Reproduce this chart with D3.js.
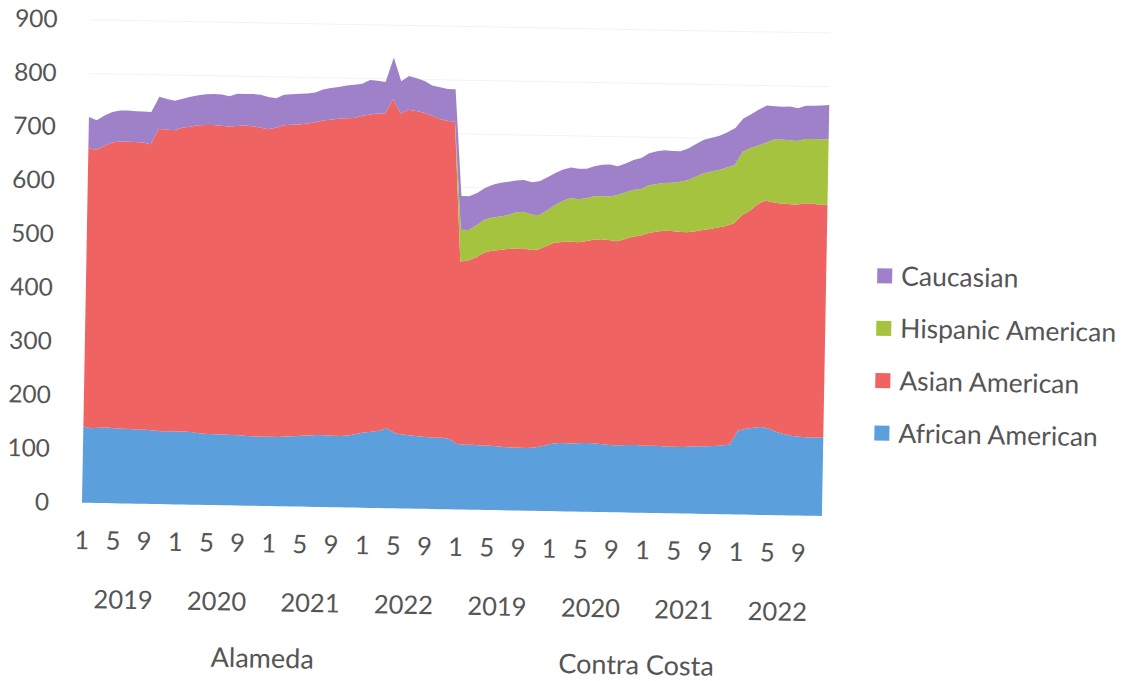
<!DOCTYPE html>
<html><head><meta charset="utf-8">
<script src="https://cdn.jsdelivr.net/npm/d3@7/dist/d3.min.js"></script>
<style>
body{margin:0;background:#fff;}
text{font-family:Lato,"Open Sans",sans-serif;fill:#555555;}
</style>
</head><body>
<svg id="chart" width="1127" height="681"></svg>
<script>
const counties = ["Alameda", "Contra Costa"];
const years = ["2019", "2020", "2021", "2022"];
const months = [1,2,3,4,5,6,7,8,9,10,11,12];
const seriesNames = ["African American", "Asian American", "Hispanic American", "Caucasian"];
const legendOrder = ["Caucasian", "Hispanic American", "Asian American", "African American"];
const colors = ["#5b9fdc", "#ef6462", "#a6c33f", "#9e81c9"];
const yTicks = [0,100,200,300,400,500,600,700,800,900];

const africanAmerican = [142,139,140,141,140,139,139,138,138,137,136,136,136,136,135,133,132,132,132,131,131,130,129,129,129,129,130,131,132,133,134,134,133,133,134,137,140,142,144,149,140,138,136,135,134,133,133,131,
122,121,121,120,120,119,118,117,117,117,118,121,125,127,127,127,128,128,127,126,125,125,126,126,125,125,125,124,124,124,125,126,126,127,128,130,156,160,162,164,161,155,151,148,147,146,146,146];
const asianAmerican = [519,519,525,531,534,535,535,535,532,562,562,561,566,568,572,575,576,575,574,576,577,577,576,573,576,581,581,581,582,583,586,588,591,592,592,593,593,593,591,613,596,605,605,603,599,594,591,591,
340,343,349,359,363,366,369,371,372,369,369,373,375,375,376,375,376,379,381,381,380,384,388,390,396,399,401,402,401,400,401,403,405,407,409,412,401,406,416,422,422,426,429,431,435,436,434,434];
const hispanicAmerican = [0,0,0,0,0,0,0,0,0,0,0,0,0,0,0,0,0,0,0,0,0,0,0,0,0,0,0,0,0,0,0,0,0,0,0,0,0,0,0,0,0,0,0,0,0,0,0,0,
59,57,60,62,62,62,63,67,68,66,64,66,70,76,81,80,80,81,81,81,86,87,87,87,89,89,89,90,93,97,102,105,107,107,109,109,119,117,110,108,117,119,119,119,120,120,122,122];
const caucasian = [58,55,57,57,58,58,57,58,60,60,57,55,54,56,56,57,58,58,56,60,59,60,61,60,55,57,57,57,56,56,58,59,59,61,62,60,64,61,59,78,60,63,61,59,56,59,59,61,
63,63,60,59,61,63,62,60,59,60,63,62,60,59,57,57,55,56,58,60,54,54,56,58,60,61,61,59,57,59,61,63,63,64,66,69,62,63,67,69,62,61,63,61,62,62,63,64];

// build category table
const categories = [];
counties.forEach(c => years.forEach(y => months.forEach(m => categories.push({county:c, year:y, month:m}))));
const rows = categories.map((c, i) => ({
  idx: i, county: c.county, year: c.year, month: c.month,
  "African American": africanAmerican[i],
  "Asian American": asianAmerican[i],
  "Hispanic American": hispanicAmerican[i],
  "Caucasian": caucasian[i]
}));

const svg = d3.select("#chart");
const ox = 82, oy = 502.7;
const g = svg.append("g").attr("transform", `rotate(1.03, ${ox}, ${oy})`);

const x = d3.scalePoint().domain(d3.range(rows.length)).range([82, 822]);
const y = d3.scaleLinear().domain([0, 900]).range([502.7, 19.7]);
const color = d3.scaleOrdinal().domain(seriesNames).range(colors);

// gridlines (very faint in the scan)
g.append("g").selectAll("line").data(yTicks.slice(1)).join("line")
  .attr("x1", 82).attr("x2", 822)
  .attr("y1", d => y(d)).attr("y2", d => y(d))
  .attr("stroke", "#f3f3f3").attr("stroke-width", 1);

const stack = d3.stack().keys(seriesNames);
const layers = stack(rows);
const area = d3.area()
  .x((d, i) => x(i))
  .y0(d => y(d[0]))
  .y1(d => y(d[1]));

g.append("g").selectAll("path").data(layers).join("path")
  .attr("d", area)
  .attr("fill", d => color(d.key));

// y axis labels
const yAxis = d3.axisLeft(y).tickValues(yTicks).tickSize(0).tickPadding(0);
const ya = g.append("g").attr("transform", "translate(49,0)").call(yAxis);
ya.select(".domain").remove();
ya.selectAll("text").style("font-size", "24.5px").style("font-family", "Lato").attr("fill", "#555555");

// month labels
const xAxis = d3.axisBottom(x)
  .tickValues(d3.range(rows.length).filter(i => i % 4 === 0))
  .tickFormat(i => rows[i].month)
  .tickSize(0).tickPadding(0);
const xa = g.append("g").attr("transform", "translate(0,531)").call(xAxis);
xa.select(".domain").remove();
xa.selectAll("text").style("font-size", "25.5px").style("font-family", "Lato").attr("fill", "#555555").attr("dy", "0.71em");

// year labels
const yearGroups = [];
counties.forEach((c, ci) => years.forEach((yr, yi) => {
  const s = ci * 48 + yi * 12;
  yearGroups.push({label: yr, x: (x(s) + x(s + 11)) / 2});
}));
g.append("g").selectAll("text").data(yearGroups).join("text")
  .attr("x", d => d.x).attr("y", 599).attr("dy", "0.35em")
  .attr("text-anchor", "middle").style("font-size", "25.5px").text(d => d.label);

// county labels
const countyGroups = counties.map((c, ci) => ({label: c, x: (x(ci * 48) + x(ci * 48 + 47)) / 2}));
g.append("g").selectAll("text").data(countyGroups).join("text")
  .attr("x", d => d.x).attr("y", 655).attr("dy", "0.35em")
  .attr("text-anchor", "middle").style("font-size", "27px").text(d => d.label);

// legend
const lg = g.append("g").attr("transform", "translate(873,261.5)");
const li = lg.selectAll("g").data(legendOrder).join("g")
  .attr("transform", (d, i) => `translate(0,${i * 52.4})`);
li.append("rect").attr("x", 0).attr("y", -7.5).attr("width", 15).attr("height", 15)
  .attr("fill", d => color(d));
li.append("text").attr("x", 24).attr("y", 0).attr("dy", "0.35em")
  .style("font-size", "26.5px").text(d => d);
</script>
</body></html>
